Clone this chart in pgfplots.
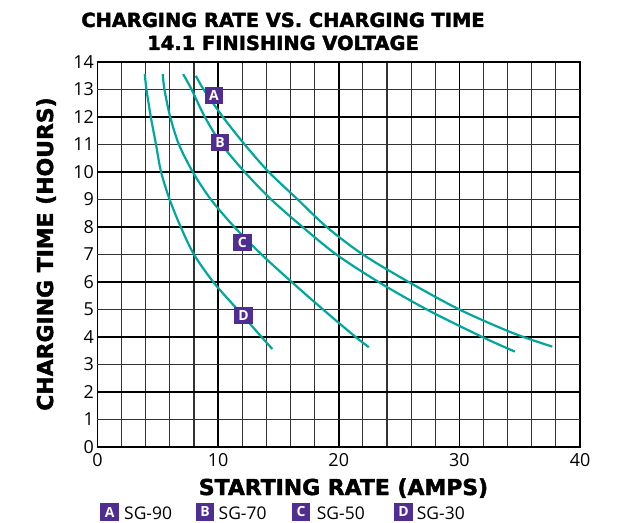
\documentclass[border=0pt]{standalone}
\usepackage{fontspec}
\setmainfont{Open Sans}
\newfontfamily\heavy[FakeBold=2]{DejaVu Sans Bold}
\usepackage{pgfplots}
\pgfplotsset{compat=1.18}
\definecolor{curve}{RGB}{0,167,157}
\definecolor{boxp}{RGB}{80,46,145}
\tikzset{lbox/.style={fill=boxp, text=white, inner sep=0pt, minimum width=18.5bp, minimum height=17.5bp, font=\fontsize{14}{14}\selectfont\bfseries}}
\begin{document}
\begin{tikzpicture}
\begin{axis}[
  name=ax, at={(0,0)}, anchor=south west,
  width=482.5bp, height=385bp, scale only axis,
  xmin=0, xmax=40, ymin=0, ymax=14,
  xtick={0,10,20,30,40}, ytick={0,1,2,3,4,5,6,7,8,9,10,11,12,13,14},
  minor xtick={2,4,6,8,12,14,16,18,22,24,26,28,32,34,36,38},
  xmajorgrids, xminorgrids,
  major grid style={black, line width=1.7bp},
  minor grid style={black!80, line width=1.1bp},
  axis line style={black, line width=1.7bp},
  major tick length=0pt, minor tick length=0pt,
  /pgf/number format/assume math mode=true,
  tick label style={font=\fontsize{18}{18}\selectfont},
  xticklabel style={yshift=-3bp},
  clip=false,
]
\pgfplotsinvokeforeach{1,3,5,7,9,11,13}{\draw[black!80, line width=1.1bp] (axis cs:0,#1) -- (axis cs:40,#1);}
\pgfplotsinvokeforeach{2,4,6,8,10,12}{\draw[black, line width=1.7bp] (axis cs:0,#1) -- (axis cs:40,#1);}
% D (SG-30)
\addplot[curve, line width=2.2bp, smooth] coordinates {
(3.92,13.56) (4.06,13) (4.42,12) (4.85,11) (5.27,10) (5.98,9) (6.9,8) (8.0,7) (9.6,6) (11.6,5) (13.6,4) (14.5,3.56)};
% C (SG-50)
\addplot[curve, line width=2.2bp, smooth] coordinates {
(5.41,13.56) (5.55,13) (6.03,12) (6.75,11) (7.9,10) (9.4,9) (11.35,8) (13.6,7) (16.1,6) (18.7,5) (21.4,4) (22.5,3.63)};
% B (SG-70)
\addplot[curve, line width=2.2bp, smooth] coordinates {
(7.1,13.56) (7.8,13) (8.9,12) (10.3,11) (12.2,10) (14.4,9) (17.0,8) (19.8,7) (23.3,6) (27.3,5) (31.9,4) (34.6,3.47)};
% A (SG-90)
\addplot[curve, line width=2.2bp, smooth] coordinates {
(8.15,13.5) (8.8,13) (10.4,12) (12.2,11) (14.2,10) (16.6,9) (19.0,8) (22.0,7) (25.8,6) (30.0,5) (34.4,4.15) (37.7,3.65)};
\node[lbox] at (axis cs:9.66,12.78) {A};
\node[lbox] at (axis cs:10.16,11.08) {B};
\node[lbox] at (axis cs:12.0,7.43) {C};
\node[lbox] at (axis cs:12.1,4.79) {D};
\end{axis}
\node[anchor=base, inner sep=0pt, font=\heavy\fontsize{19.5}{19.5}\selectfont] at (185.5bp,420bp) {CHARGING RATE VS. CHARGING TIME};
\node[anchor=base, inner sep=0pt, font=\heavy\fontsize{19.5}{19.5}\selectfont] at (185.5bp,397bp) {14.1 FINISHING VOLTAGE};
\node[anchor=base, inner sep=0pt, font=\heavy\fontsize{22}{22}\selectfont] at (246bp,-48bp) {STARTING RATE (AMPS)};
\node[anchor=base, inner sep=0pt, rotate=90, font=\heavy\fontsize{22}{22}\selectfont] at (-44.5bp,193bp) {CHARGING TIME (HOURS)};
\node[lbox] at (12.2bp,-65bp) {A};
\node[lbox] at (107.5bp,-65bp) {B};
\node[lbox] at (203.5bp,-65bp) {C};
\node[lbox] at (306bp,-65bp) {D};
\node[anchor=base west, inner sep=0pt, font=\fontsize{17.5}{17.5}\selectfont] at (26.5bp,-72bp) {SG-90};
\node[anchor=base west, inner sep=0pt, font=\fontsize{17.5}{17.5}\selectfont] at (121bp,-72bp) {SG-70};
\node[anchor=base west, inner sep=0pt, font=\fontsize{17.5}{17.5}\selectfont] at (219.2bp,-72bp) {SG-50};
\node[anchor=base west, inner sep=0pt, font=\fontsize{17.5}{17.5}\selectfont] at (319.2bp,-72bp) {SG-30};
\pgfresetboundingbox
\path[use as bounding box] (-97.5bp,-76bp) rectangle (524.5bp,447bp);
\end{tikzpicture}
\end{document}
